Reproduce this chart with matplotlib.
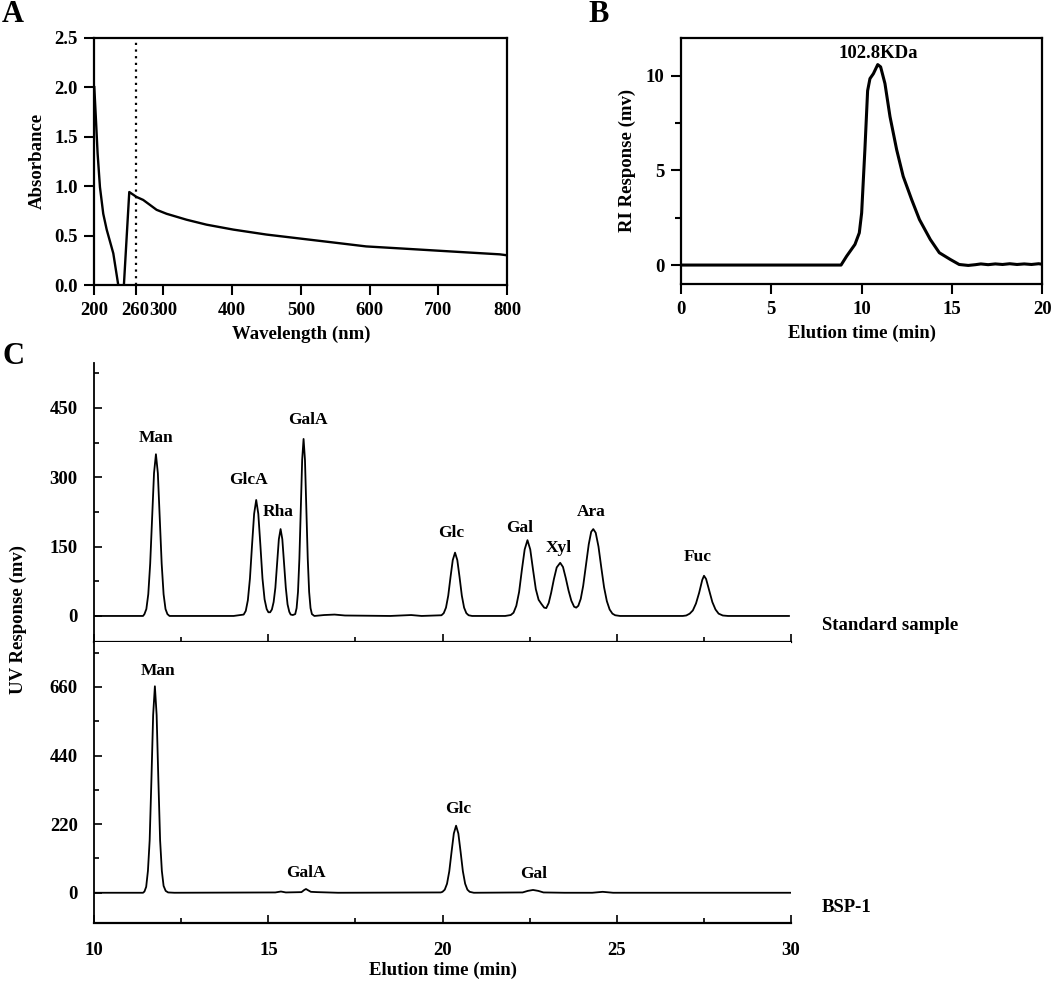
import numpy as np
import matplotlib.pyplot as plt
from matplotlib.ticker import MultipleLocator, FixedLocator

plt.rcParams.update({
    "font.family": ["Liberation Serif", "DejaVu Serif"],
    "font.weight": "bold",
    "axes.labelweight": "bold",
    "font.size": 13,
})

# ---- data ----
# A: UV scan
wl = [200, 202.4, 204.8, 208.2, 213, 218, 227.6, 234.8, 239, 243, 250.8, 255,
      261.4, 271, 280.8, 290.5, 305, 334, 363, 402, 450, 498.5, 547, 595, 644,
      692, 740, 789, 800]
absorb = [2.0, 1.67, 1.33, 0.99, 0.72, 0.56, 0.32, 0.0, -0.3, 0.0, 0.94, 0.92,
          0.89, 0.86, 0.81, 0.76, 0.72, 0.66, 0.61, 0.56, 0.51, 0.47, 0.43, 0.39,
          0.37, 0.35, 0.33, 0.31, 0.30]

# B: gel permeation trace
gpc_t = [0, 2, 4, 6, 8, 8.86, 9.17, 9.63, 9.87, 10.0, 10.18, 10.33, 10.46, 10.65,
         10.89, 11.05, 11.29, 11.57, 11.94, 12.3, 12.77, 13.2, 13.8, 14.3, 14.9,
         15.4, 15.9, 16.3, 16.6, 17.0, 17.4, 17.8, 18.2, 18.6, 19.0, 19.4, 19.8, 20.0]
gpc_ri = [0, 0, 0, 0, 0, 0, 0.47, 1.09, 1.7, 2.75, 6.1, 9.2, 9.84, 10.1,
          10.58, 10.46, 9.58, 7.83, 6.08, 4.68, 3.45, 2.4, 1.35, 0.65, 0.3,
          0.03, -0.02, 0.02, 0.06, 0.02, 0.06, 0.03, 0.07, 0.03, 0.06, 0.03, 0.07, 0.04]

# C: monosaccharide composition, standard mix
std_t = [10.0, 11.40, 11.44, 11.495, 11.55, 11.605, 11.66, 11.715, 11.77, 11.825,
         11.88, 11.935, 11.99, 12.045, 12.10, 12.16, 14.0, 14.29, 14.35, 14.41,
         14.47, 14.53, 14.59, 14.65, 14.71, 14.77, 14.83, 14.89, 14.95, 15.0,
         15.05, 15.10, 15.15, 15.20, 15.25, 15.30, 15.35, 15.40, 15.45, 15.50,
         15.55, 15.60, 15.64, 15.70, 15.77, 15.81, 15.85, 15.89, 15.93, 15.97,
         16.01, 16.05, 16.09, 16.13, 16.17, 16.21, 16.25, 16.32, 16.6, 16.9,
         17.2, 18.5, 19.1, 19.4, 19.97, 20.035, 20.10, 20.165, 20.23, 20.295,
         20.36, 20.425, 20.49, 20.555, 20.62, 20.685, 20.75, 20.85, 21.8, 21.96,
         22.04, 22.12, 22.20, 22.28, 22.36, 22.44, 22.52, 22.60, 22.68, 22.76,
         22.84, 22.92, 22.98, 23.05, 23.12, 23.20, 23.28, 23.38, 23.46, 23.54,
         23.62, 23.70, 23.78, 23.84, 23.90, 23.97, 24.04, 24.12, 24.20, 24.27,
         24.33, 24.40, 24.48, 24.56, 24.64, 24.72, 24.80, 24.88, 24.96, 25.1,
         26.9, 27.0, 27.10, 27.19, 27.28, 27.37, 27.46, 27.51, 27.57, 27.66,
         27.75, 27.84, 27.93, 28.05, 28.2, 29.95]
std_uv = [0, 0, 4, 15, 47, 113, 213, 309, 350, 309,
          213, 113, 47, 15, 4, 0, 0, 3, 11, 34,
          81, 153, 221, 251, 221, 153, 81, 36, 15, 8,
          8, 14, 30, 61, 114, 166, 188, 166, 114, 61,
          25, 9, 3, 2, 4, 17, 52, 124, 232, 338,
          383, 338, 232, 124, 52, 17, 4, 0, 2, 3,
          1, 0, 2, 0, 1.5, 6, 18, 44, 84, 121,
          137, 121, 84, 44, 18, 6, 1.5, 0, 0, 2,
          7, 22, 52, 100, 144, 164, 144, 100, 58, 35,
          26, 18, 17, 28, 50, 80, 105, 115, 106, 82,
          55, 33, 20, 18, 22, 37, 65, 110, 155, 182,
          188, 180, 150, 105, 62, 32, 14, 5, 1.5, 0,
          0, 1, 5, 12, 27, 50, 78, 87, 80, 55,
          30, 14, 5, 1, 0, 0]

# C: BSP-1 sample
bsp_t = [10.0, 11.40, 11.44, 11.49, 11.54, 11.59, 11.64, 11.69, 11.74, 11.79,
         11.84, 11.89, 11.94, 11.99, 12.05, 12.12, 12.3, 15.2, 15.36, 15.5,
         15.95, 16.03, 16.08, 16.14, 16.22, 16.4, 17.0, 19.95, 20.00, 20.065,
         20.13, 20.195, 20.26, 20.325, 20.39, 20.455, 20.52, 20.585, 20.65,
         20.715, 20.78, 20.9, 22.3, 22.45, 22.6, 22.75, 22.9, 23.5, 24.3,
         24.6, 24.9, 30.0]
bsp_uv = [0, 0, 4, 19, 70, 168, 361, 570, 662, 570,
          361, 168, 70, 22, 6, 1, 0, 1, 4, 1,
          2, 9, 12, 8, 3, 2, 0, 1, 3, 10,
          29, 69, 131, 190, 215, 190, 131, 69, 29,
          10, 3, 0, 1, 6, 9, 6, 1, 0, 0,
          3, 0, 0]

std_names = ["Man", "GlcA", "Rha", "GalA", "Glc", "Gal", "Xyl", "Ara", "Fuc"]
std_lab_t = [11.77, 14.44, 15.28, 16.13, 20.26, 22.21, 23.33, 24.26, 27.34]
std_lab_v = [385, 294, 224, 423, 179, 190, 146, 224, 128]

bsp_names = ["Man", "GalA", "Glc", "Gal"]
bsp_lab_t = [11.83, 16.09, 20.45, 22.63]
bsp_lab_v = [710, 64, 268, 60]

W, H = 1052, 981
fig = plt.figure(figsize=(W / 100, H / 100), dpi=100)


def box(l, t, r, b):
    return [l / W, 1 - b / H, (r - l) / W, (b - t) / H]


# ---------------- A ----------------
axA = fig.add_axes(box(94.3, 37.7, 507.3, 285))
axA.plot(wl, absorb, color="black", lw=1.7)
axA.axvline(260, color="black", lw=1.6, ls=(0, (1, 2)))
axA.set_xlim(200, 800)
axA.set_ylim(0, 2.5)
axA.set_xticks([200, 260, 300, 400, 500, 600, 700, 800])
axA.set_yticks([0.0, 0.5, 1.0, 1.5, 2.0, 2.5])
axA.yaxis.set_major_formatter(plt.FormatStrFormatter("%.1f"))
axA.tick_params(direction="out", length=7, width=1.5, labelsize=13.5, pad=5)
for s in axA.spines.values():
    s.set_linewidth(1.6)
axA.set_xlabel("Wavelength (nm)", fontsize=13.5, labelpad=5)
axA.set_ylabel("Absorbance", fontsize=13.5, labelpad=6)

# ---------------- B ----------------
axB = fig.add_axes(box(681, 37.7, 1042.3, 284))
axB.plot(gpc_t, gpc_ri, color="black", lw=2.2)
axB.set_xlim(0, 20)
axB.set_ylim(-1, 12)
axB.set_xticks([0, 5, 10, 15, 20])
axB.set_yticks([0, 5, 10])
axB.yaxis.set_minor_locator(FixedLocator([2.5, 7.5]))
axB.tick_params(which="major", direction="out", length=7, width=1.5,
                labelsize=13.5, pad=5)
axB.tick_params(which="minor", direction="out", length=4, width=1.5)
for s in axB.spines.values():
    s.set_linewidth(1.6)
axB.text(10.92, 11.15, "102.8KDa", ha="center", va="center", fontsize=13.5)
axB.set_xlabel("Elution time (min)", fontsize=13.5, labelpad=5)
axB.set_ylabel("RI Response (mv)", fontsize=13.5, labelpad=7)

# ---------------- C ----------------
axC1 = fig.add_axes(box(94.3, 362.7, 790.7, 642.3))
axC2 = fig.add_axes(box(94.3, 642.3, 790.7, 922.7), sharex=axC1)

axC1.plot(std_t, std_uv, color="black", lw=1.3)
axC2.plot(bsp_t, bsp_uv, color="black", lw=1.3)

axC1.set_xlim(10, 30)
axC1.set_ylim(-57, 548)
axC2.set_ylim(-96, 803)
axC1.set_yticks([0, 150, 300, 450])
axC1.yaxis.set_minor_locator(FixedLocator([75, 225, 375, 525]))
axC2.set_yticks([0, 220, 440, 660])
axC2.yaxis.set_minor_locator(FixedLocator([110, 330, 550, 770]))
axC2.set_xticks([10, 15, 20, 25, 30])
axC2.xaxis.set_minor_locator(MultipleLocator(2.5))

for ax in (axC1, axC2):
    ax.spines["top"].set_visible(False)
    ax.spines["right"].set_visible(False)
    ax.spines["left"].set_linewidth(1.3)
    ax.spines["bottom"].set_linewidth(1.6)
    ax.tick_params(which="major", direction="in", length=6, width=1.2,
                   labelsize=13.5, pad=12)
    ax.tick_params(which="minor", direction="in", length=3.5, width=1.2)
axC1.tick_params(axis="x", which="both", labelbottom=False)
axC2.tick_params(axis="x", pad=14)

for name, t, v in zip(std_names, std_lab_t, std_lab_v):
    axC1.text(t, v, name, ha="center", va="center", fontsize=12.5)
for name, t, v in zip(bsp_names, bsp_lab_t, bsp_lab_v):
    axC2.text(t, v, name, ha="center", va="center", fontsize=12.5)

axC2.set_xlabel("Elution time (min)", fontsize=13.5, labelpad=2)

fig.text(822 / W, 1 - 625 / H, "Standard sample", ha="left", va="center", fontsize=13.5)
fig.text(822 / W, 1 - 907 / H, "BSP-1", ha="left", va="center", fontsize=13.5)
fig.text(18 / W, 1 - 620 / H, "UV Response (mv)", rotation=90,
         ha="center", va="center", fontsize=13.5)

# panel letters
fig.text(13 / W, 1 - 15 / H, "A", ha="center", va="center", fontsize=22)
fig.text(599 / W, 1 - 14 / H, "B", ha="center", va="center", fontsize=22)
fig.text(13 / W, 1 - 356 / H, "C", ha="center", va="center", fontsize=22)

fig.savefig("out.png", dpi=100)
